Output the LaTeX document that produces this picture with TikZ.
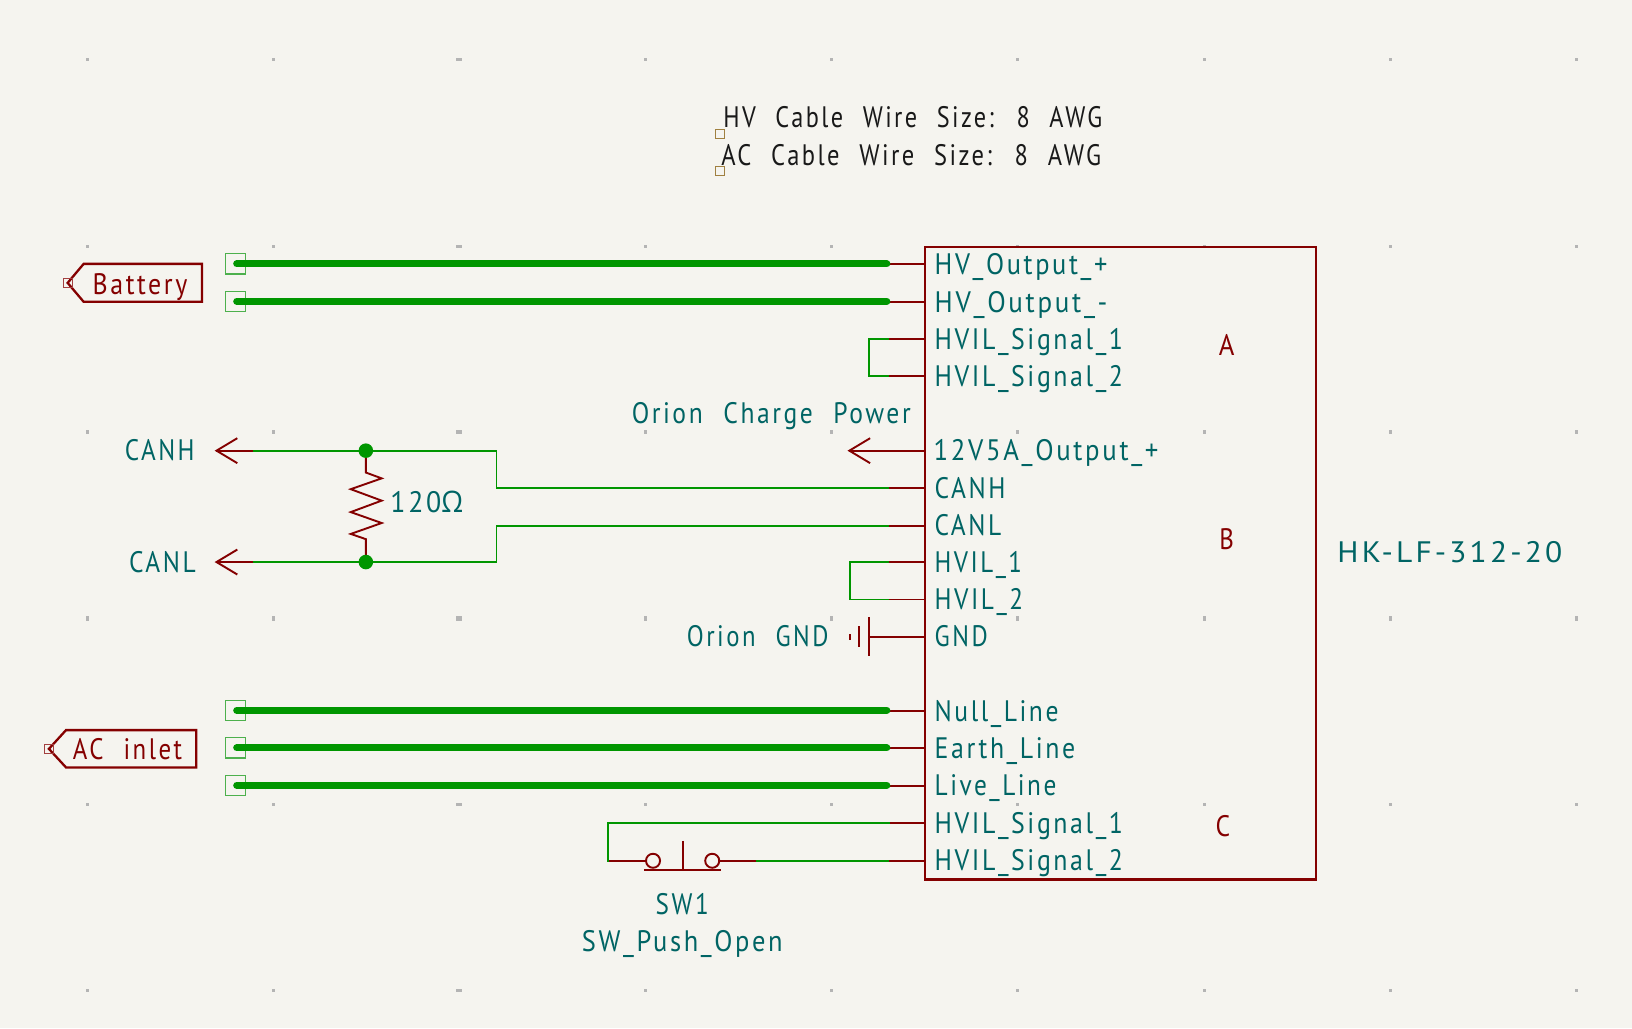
\documentclass[tikz,border=0pt]{standalone}
\usepackage{fontspec}
\usepackage{graphicx}
\usetikzlibrary{calc}
\setmainfont[LetterSpace=10,WordSpace=2.2]{PT Sans}
\newfontfamily\omegafont{Open Sans}
\newlength\du \setlength\du{1.0408pt}
\newcommand\fitw[2]{\resizebox{#1\du}{\height}{#2}}
\definecolor{bgc}{HTML}{F5F4EF}
\definecolor{wirec}{HTML}{009600}
\definecolor{pinc}{HTML}{840000}
\definecolor{textc}{HTML}{006464}
\definecolor{gridc}{HTML}{B4B4B4}
\definecolor{notec}{HTML}{A08040}
\definecolor{anchorg}{HTML}{4DB04D}
\tikzset{
  x=1.0408pt, y=-1.0408pt,
  kitxt/.style={inner sep=0pt, outer sep=0pt, anchor=base west, yshift=-0.8pt, font=\fontsize{29.6}{31}\selectfont},
  tealtxt/.style={kitxt, text=textc},
  redtxt/.style={kitxt, text=pinc},
  blacktxt/.style={kitxt, text=black!90},
  pinline/.style={draw=pinc, line width=1.9pt},
  frameline/.style={draw=pinc, line width=2.1pt, line join=miter},
  thinwire/.style={draw=wirec, line width=1.9pt, line join=miter},
  thickwire/.style={draw=wirec, line width=7.2pt, line cap=round},
  anchorbox/.style={draw=anchorg, line width=1.3pt, fill=none, minimum size=19.5\du, inner sep=0pt, shape=rectangle},
  notebox/.style={draw=notec, line width=1pt, minimum size=8.5\du, inner sep=0pt, shape=rectangle},
  hierbox/.style={draw=pinc!75, line width=1pt, minimum size=8.5\du, inner sep=0pt, shape=rectangle},
  junct/.style={circle, fill=wirec, minimum size=14\du, inner sep=0pt},
  griddot/.style={fill=gridc, draw=none},
}
\begin{document}
\begin{tikzpicture}
\useasboundingbox[fill=bgc] (0,0) rectangle (1568,987.7);
% page grid
\foreach \gx in {84,263,620,799,978,1157,1336,1515}
  \foreach \gy in {57,237,415,773,952}
    \fill[griddot] (\gx-1.5,\gy-1.5) rectangle (\gx+1.5,\gy+1.5);
\foreach \gy in {57,237,415,773,952}
  \fill[griddot] (441-2.5,\gy-1.5) rectangle (441+2.5,\gy+1.5);
\foreach \gx in {84,263,620,799,978,1157,1336,1515}
  \fill[griddot] (\gx-1.5,594-2.5) rectangle (\gx+1.5,594+2.5);
\fill[griddot] (441-2.5,594-2.5) rectangle (441+2.5,594+2.5);

% symbol frame
\node[frameline, shape=rectangle, inner sep=0pt, minimum width=375\du, minimum height=608\du] (U) at (1076.5,541) {};

% pin ends on the wire side
\foreach \nm/\py in {a/254,b/290,c/326,d/361,e/433,f/469,g/505,h/540,i/576,j/612,k/683,l/719,m/755,n/791,o/827}{
  \coordinate (in\nm) at (854,\py);
  \coordinate (out\nm) at (889,\py);
}
\foreach \nm in {a,b,c,d,f,g,h,i,k,l,m,n,o}
  \draw[pinline] (in\nm) -- (out\nm);

% thick power wires
\foreach \nm/\py in {a/254,b/290,k/683,l/719,m/755}{
  \node[anchorbox] (t\nm) at (226.3,\py-0.5) {};
  \coordinate (s\nm) at (227.5,\py-0.5);
  \draw[thickwire] (s\nm) -- ($(in\nm)+(-2,-0.5)$);
}

% HVIL loops
\coordinate (c1) at (835,326); \coordinate (c2) at (835,361);
\draw[thinwire] (inc) -- (c1) -- (c2) -- (ind);
\coordinate (h1) at (817,540); \coordinate (h2) at (817,576);
\draw[thinwire] (inh) -- (h1) -- (h2) -- (ini);

% CAN arrows
\coordinate (tipH) at (208,433); \coordinate (endH) at (243,433);
\coordinate (tipL) at (208,540); \coordinate (endL) at (243,540);
\draw[pinline] (tipH) -- (endH);
\draw[pinline] (228,421) -- (tipH) -- (228,445);
\draw[pinline] (tipL) -- (endL);
\draw[pinline] (228,528) -- (tipL) -- (228,552);

% resistor
\coordinate (rt) at (351.5,433); \coordinate (rb) at (351.5,540);
\draw[pinline, line join=miter] (rt) -- (351.5,454) -- (366.7,459.6) -- (337,470) -- (366.7,481) -- (337,492) -- (366.7,502.5) -- (337,513) -- (351.5,518) -- (rb);

% CAN wires
\coordinate (cH1) at (477,433); \coordinate (cH2) at (477,469);
\coordinate (cL1) at (477,540); \coordinate (cL2) at (477,505);
\draw[thinwire] (endH) -- (cH1) -- (cH2) -- (inf);
\draw[thinwire] (endL) -- (cL1) -- (cL2) -- (ing);
\node[junct] (J1) at (rt) {};
\node[junct] (J2) at (rb) {};

% power arrow
\coordinate (tipP) at (816,433);
\draw[pinline] (tipP) -- (oute);
\draw[pinline] (836,421) -- (tipP) -- (836,445);

% ground symbol
\coordinate (gb) at (834.8,612);
\draw[pinline] (gb) -- (outj);
\draw[pinline] (834.8,593) -- (834.8,630);
\draw[pinline] (825.2,601.5) -- (825.2,622);
\draw[pinline, line width=2pt] (816.7,609.5) -- (816.7,615);

% switch
\node[circle, draw=pinc, line width=1.9pt, minimum size=13.5\du, inner sep=0pt] (sa) at (627.4,827) {};
\node[circle, draw=pinc, line width=1.9pt, minimum size=13.5\du, inner sep=0pt] (sb) at (684.3,827) {};
\coordinate (sl) at (584,827);
\coordinate (sl2) at (584,791);
\coordinate (sr) at (726.7,827);
\draw[pinline] (sl) -- (sa);
\draw[pinline] (sb) -- (sr);
\draw[pinline] (619,835.6) -- (692.6,835.6);
\draw[pinline] (656.2,808) -- (656.2,835.6);
\draw[thinwire, line cap=rect] (inn) -- (sl2) -- (sl);
\draw[thinwire] (sr) -- (ino);

% hierarchical labels
\coordinate (b1) at (65,271.8); \coordinate (b2) at (80.4,253.5); \coordinate (b3) at (194,253.5); \coordinate (b4) at (194,290); \coordinate (b5) at (80.4,290);
\draw[pinline, line width=2.3pt, line join=miter] (b1) -- (b2) -- (b3) -- (b4) -- (b5) -- cycle;
\node[hierbox] (bh) at (65,271.8) {};
\coordinate (d1) at (47,719.5); \coordinate (d2) at (63.4,701.5); \coordinate (d3) at (188.6,701.5); \coordinate (d4) at (188.6,737.3); \coordinate (d5) at (63.4,737.3);
\draw[pinline, line width=2.3pt, line join=miter] (d1) -- (d2) -- (d3) -- (d4) -- (d5) -- cycle;
\node[hierbox] (dh) at (47,719.5) {};

% note anchors
\node[notebox] (n1) at (691.7,128.5) {};
\node[notebox] (n2) at (691.7,164) {};

% texts
\node[blacktxt] (t1) at (695,122) {\fitw{364}{HV Cable Wire Size: 8 AWG}};
\node[blacktxt] (t2) at (693,158) {\fitw{365}{AC Cable Wire Size: 8 AWG}};
\node[redtxt] (lb) at (89,281.8) {\fitw{91}{Battery}};
\node[redtxt] (la) at (70,728.6) {\fitw{105}{AC inlet}};
\node[tealtxt] (p1) at (898,263.3) {\fitw{166}{HV\_Output\_+}};
\node[tealtxt] (p2) at (898,299.2) {\fitw{166}{HV\_Output\_-}};
\node[tealtxt] (p3) at (898,334.7) {\fitw{181}{HVIL\_Signal\_1}};
\node[tealtxt] (p4) at (898,370.2) {\fitw{181}{HVIL\_Signal\_2}};
\node[tealtxt] (p5) at (897,442) {\fitw{216}{12V5A\_Output\_+}};
\node[tealtxt] (p6) at (898,478) {\fitw{68}{CANH}};
\node[tealtxt] (p7) at (898,514) {\fitw{64}{CANL}};
\node[tealtxt] (p8) at (898,549.3) {\fitw{84}{HVIL\_1}};
\node[tealtxt] (p9) at (898,585) {\fitw{85}{HVIL\_2}};
\node[tealtxt] (p10) at (898,620) {\fitw{51}{GND}};
\node[tealtxt] (p11) at (898,692.4) {\fitw{119}{Null\_Line}};
\node[tealtxt] (p12) at (898,727.8) {\fitw{135}{Earth\_Line}};
\node[tealtxt] (p13) at (898,763.7) {\fitw{117}{Live\_Line}};
\node[tealtxt] (p14) at (898,800) {\fitw{181}{HVIL\_Signal\_1}};
\node[tealtxt] (p15) at (898,835.5) {\fitw{181}{HVIL\_Signal\_2}};
\node[redtxt] (ua) at (1171,341) {\fitw{15}{A}};
\node[redtxt] (ub) at (1171.5,527) {\fitw{14}{B}};
\node[redtxt] (uc) at (1168,803) {\fitw{14}{C}};
\node[tealtxt] (val) at (1285,540) {\fitw{216}{HK-LF-312-20}};
\node[tealtxt] (ocp) at (607,405.8) {\fitw{268}{Orion Charge Power}};
\node[tealtxt] (lh) at (120,441.3) {\fitw{67}{CANH}};
\node[tealtxt] (ll) at (124,549.3) {\fitw{64}{CANL}};
\node[tealtxt] (rv) at (375,492) {\fitw{70}{120{\omegafont Ω}}};
\node[tealtxt] (og) at (660,620) {\fitw{136}{Orion GND}};
\node[tealtxt] (sw) at (630,877.5) {\fitw{51}{SW1}};
\node[tealtxt] (swv) at (559,913.7) {\fitw{193}{SW\_Push\_Open}};
\end{tikzpicture}
\end{document}
